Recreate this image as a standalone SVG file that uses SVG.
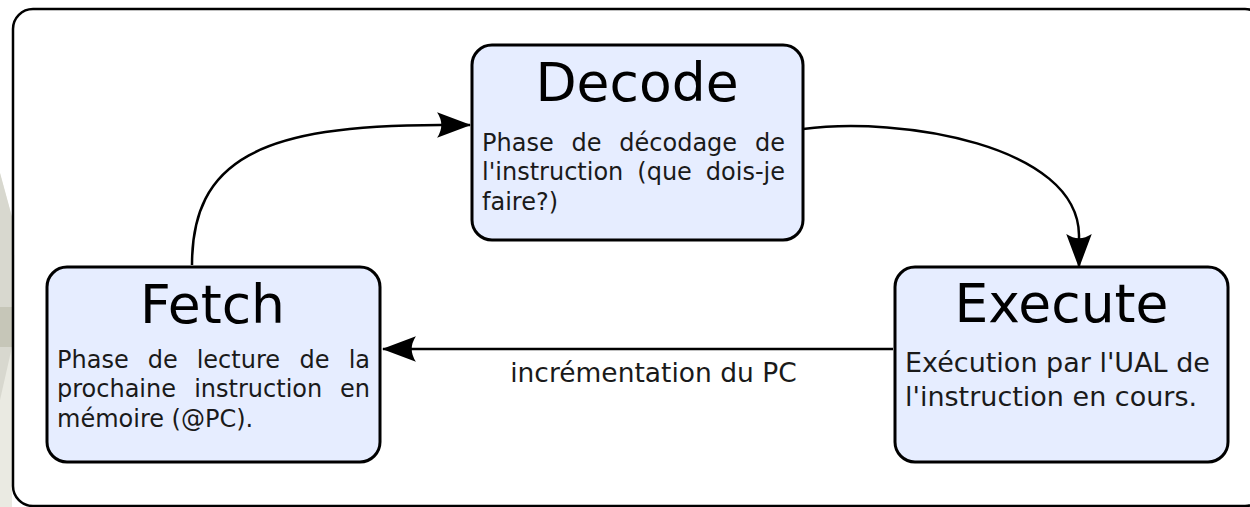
<svg xmlns="http://www.w3.org/2000/svg" width="1250" height="507" viewBox="0 0 1250 507">
  <style>
    .node rect { fill: #e6edff; stroke: #000; stroke-width: 3; }
    .title { font-family: "DejaVu Sans", sans-serif; font-size: 53.5px; fill: #000; text-anchor: middle; }
    .body { font-family: "DejaVu Sans", sans-serif; font-size: 24px; fill: #1a1a1a; }
    .body27 { font-family: "DejaVu Sans", sans-serif; font-size: 27px; fill: #1a1a1a; }
    .label { font-family: "DejaVu Sans", sans-serif; font-size: 26.5px; fill: #1a1a1a; text-anchor: middle; }
    .conn path { fill: none; stroke: #000; stroke-width: 2.5; }
  </style>
  <defs>
    <marker id="arrow" markerUnits="userSpaceOnUse" markerWidth="34" markerHeight="28" viewBox="0 0 32 26" refX="31" refY="13" orient="auto">
      <path d="M32,13 L0,1 Q8,13 0,25 Z" fill="#000"/>
    </marker>
  </defs>
  <rect x="0" y="0" width="1250" height="507" fill="#fff"/>
  <g id="background">
    <polygon points="0,173 12,217 12,507 0,507" fill="#eaeae2"/>
    <polygon points="0,173 12,217 12,307 0,307" fill="#d8d8cf"/>
    <rect x="0" y="307" width="12" height="40" fill="#c6c6b8"/>
    <polygon points="0,347 12,347 0,400" fill="#d8d8cf"/>
  </g>
  <g id="frame">
    <rect x="13" y="9" width="1252" height="497" rx="20" ry="20" fill="#fff" stroke="#000" stroke-width="2.5"/>
  </g>
  <g id="connectors" class="conn">
    <path d="M192,265 C192,160 260,125 440,125 L470,125" marker-end="url(#arrow)"/>
    <path d="M803,129 C900,116 1078,145 1079,235 L1079,267" marker-end="url(#arrow)"/>
    <path d="M893,349 L383,349" marker-end="url(#arrow)"/>
    <text class="label" x="653.5" y="382">incrémentation du PC</text>
  </g>
  <g id="decode" class="node">
    <rect x="472" y="45" width="331" height="195" rx="20" ry="20"/>
    <text class="title" x="637" y="101">Decode</text>
    <text class="body" y="151"><tspan x="482">Phase</tspan> <tspan x="571.5">de</tspan> <tspan x="619.3">décodage</tspan> <tspan x="785" text-anchor="end">de</tspan></text>
    <text class="body" y="180"><tspan x="482">l'instruction</tspan> <tspan x="637.3">(que</tspan> <tspan x="785" text-anchor="end">dois-je</tspan></text>
    <text class="body" x="482" y="210">faire?)</text>
  </g>
  <g id="fetch" class="node">
    <rect x="47" y="267" width="333" height="195" rx="20" ry="20"/>
    <text class="title" x="212.5" y="323">Fetch</text>
    <text class="body" y="368"><tspan x="57">Phase</tspan> <tspan x="147.7">de</tspan> <tspan x="196.7">lecture</tspan> <tspan x="299.6">de</tspan> <tspan x="370" text-anchor="end">la</tspan></text>
    <text class="body" y="397"><tspan x="57">prochaine</tspan> <tspan x="194.2">instruction</tspan> <tspan x="370" text-anchor="end">en</tspan></text>
    <text class="body" x="57" y="427">mémoire (@PC).</text>
  </g>
  <g id="execute" class="node">
    <rect x="895" y="267" width="333" height="195" rx="20" ry="20"/>
    <text class="title" x="1061.5" y="322">Execute</text>
    <text class="body27" x="905" y="372">Exécution par l'UAL de</text>
    <text class="body27" x="905" y="406">l'instruction en cours.</text>
  </g>
</svg>
